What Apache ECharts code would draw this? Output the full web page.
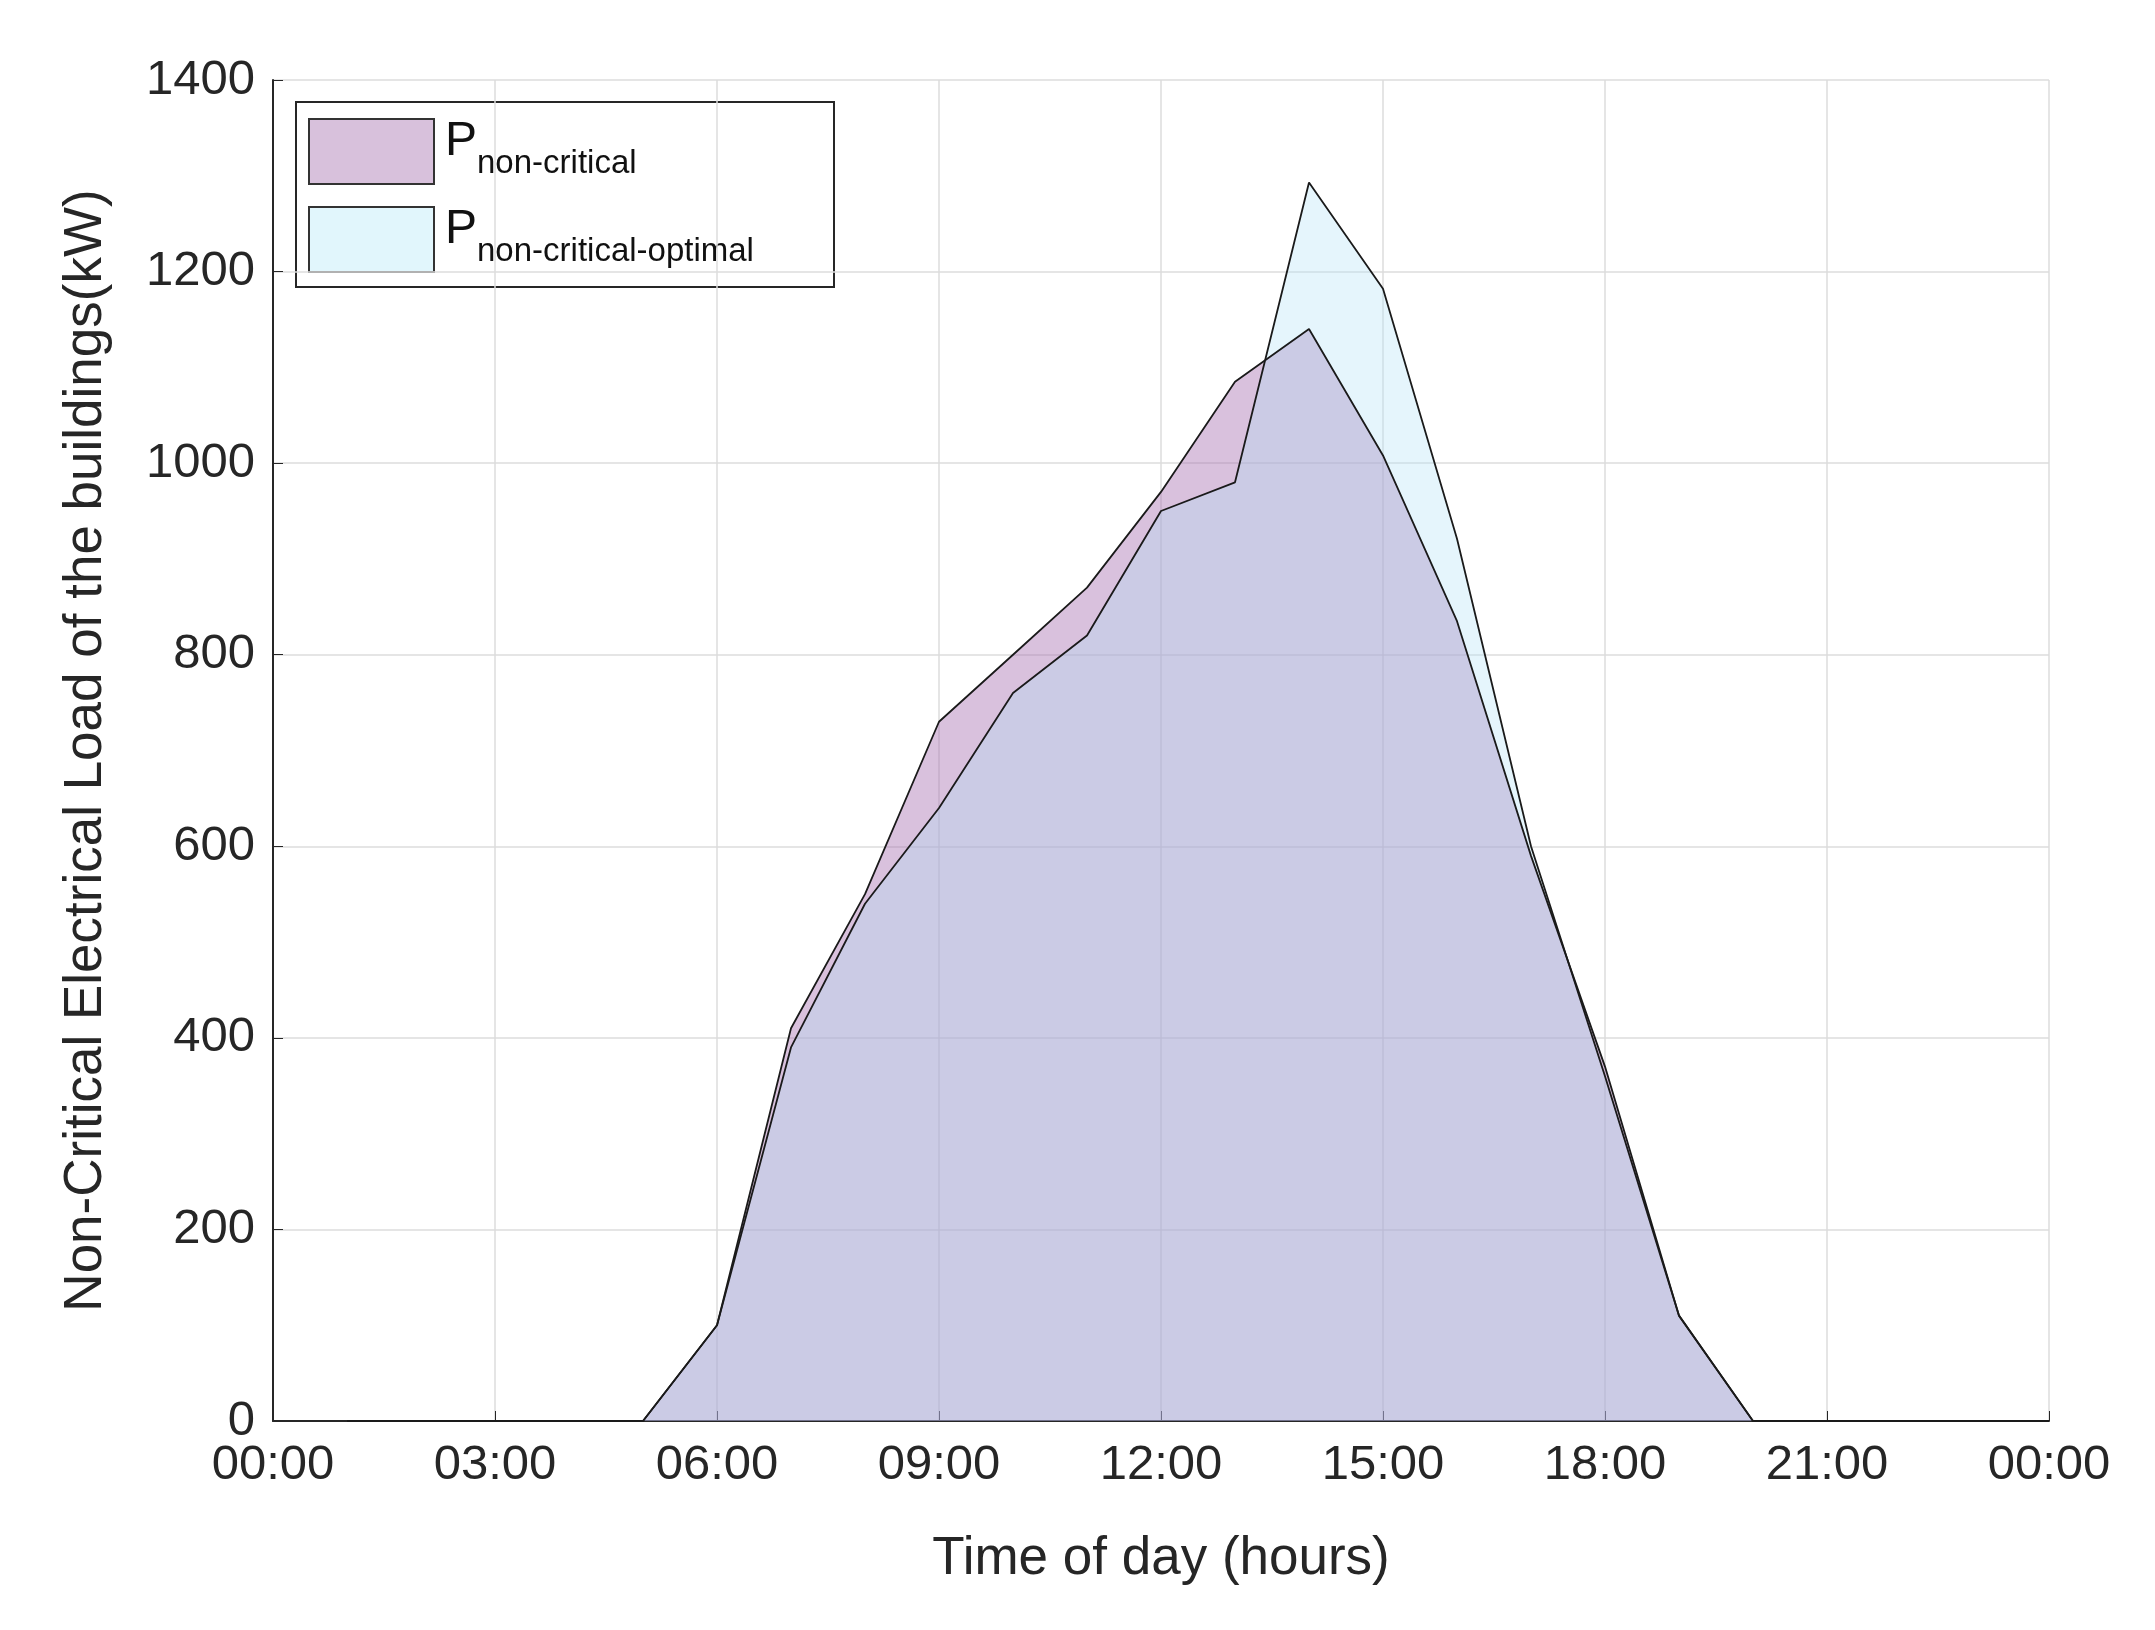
<!DOCTYPE html>
<html><head><meta charset="utf-8">
<script src="https://cdn.jsdelivr.net/npm/echarts@6/dist/echarts.min.js"></script>
<style>html,body{margin:0;padding:0;background:#fff}#c{width:2155px;height:1630px}</style>
</head><body><div id="c"></div>
<script>
const hours = [1,2,3,4,5,6,7,8,9,10,11,12,13,14,15,16,17,18,19,20,21,22,23,24];
const pNonCritical = [0,0,0,0,0,100,410,550,730,800,870,970,1085,1140,1008,835,590,370,110,0,0,0,0,0];
const pOptimal     = [0,0,0,0,0,100,390,540,640,760,820,950,980,1293,1182,921,600,360,110,0,0,0,0,0];
const xTicks = ['00:00','03:00','06:00','09:00','12:00','15:00','18:00','21:00','00:00'];

const chart = echarts.init(document.getElementById('c'));
const font = 'Liberation Sans, Arial, sans-serif';
const mk = (vals) => hours.map((h,i)=>[h,vals[i]]);
chart.setOption({
  animation:false,
  grid:{left:273,right:106,top:80,bottom:209},
  xAxis:{type:'value',min:0,max:24,interval:3,
    name:'Time of day (hours)',nameLocation:'middle',nameGap:112,
    nameTextStyle:{fontSize:53,color:'#262626',fontFamily:font},
    axisLabel:{fontSize:49,color:'#262626',fontFamily:font,margin:20,formatter:v=>xTicks[v/3]},
    axisLine:{lineStyle:{color:'#262626',width:2}},
    axisTick:{show:true,inside:true,length:10,lineStyle:{color:'#262626'}},
    splitLine:{show:true,lineStyle:{color:'#dcdcdc',width:1.5}}},
  yAxis:{type:'value',min:0,max:1400,interval:200,
    name:'Non-Critical Electrical Load of the buildings(kW)',nameLocation:'middle',nameGap:160,
    nameTextStyle:{fontSize:53,color:'#262626',fontFamily:font},
    axisLabel:{fontSize:49,color:'#262626',fontFamily:font,margin:18,formatter:v=>String(v)},
    axisLine:{show:true,lineStyle:{color:'#262626',width:2}},
    axisTick:{show:true,inside:true,length:10,lineStyle:{color:'#262626'}},
    splitLine:{show:true,lineStyle:{color:'#dcdcdc',width:1.5}}},
  series:[
    {type:'line',name:'P non-critical',data:mk(pNonCritical),symbol:'none',
      lineStyle:{color:'#1a1a1a',width:1.8},areaStyle:{color:'rgba(160,100,170,0.4)',opacity:1}},
    {type:'line',name:'P optimal',data:mk(pOptimal),symbol:'none',
      lineStyle:{color:'#1a1a1a',width:1.8},areaStyle:{color:'rgba(175,225,245,0.32)',opacity:1}}
  ],
  graphic:[
    {type:'rect',shape:{x:296,y:102,width:538,height:185},style:{fill:'#fff',stroke:'#262626',lineWidth:2}},
    {type:'rect',shape:{x:309,y:119,width:125,height:65},style:{fill:'rgb(216,193,220)',stroke:'#333',lineWidth:2}},
    {type:'rect',shape:{x:309,y:207,width:125,height:65},style:{fill:'rgb(225,246,252)',stroke:'#333',lineWidth:2}},
    {type:'text',left:445,top:118,style:{text:'{a|P}{b|non-critical}',rich:{a:{fontSize:48,fontFamily:font,fill:'#111'},b:{fontSize:33,fontFamily:font,fill:'#111',padding:[44,0,0,0]}}}},
    {type:'text',left:445,top:206,style:{text:'{a|P}{b|non-critical-optimal}',rich:{a:{fontSize:48,fontFamily:font,fill:'#111'},b:{fontSize:33,fontFamily:font,fill:'#111',padding:[44,0,0,0]}}}}
  ]
});
</script></body></html>
